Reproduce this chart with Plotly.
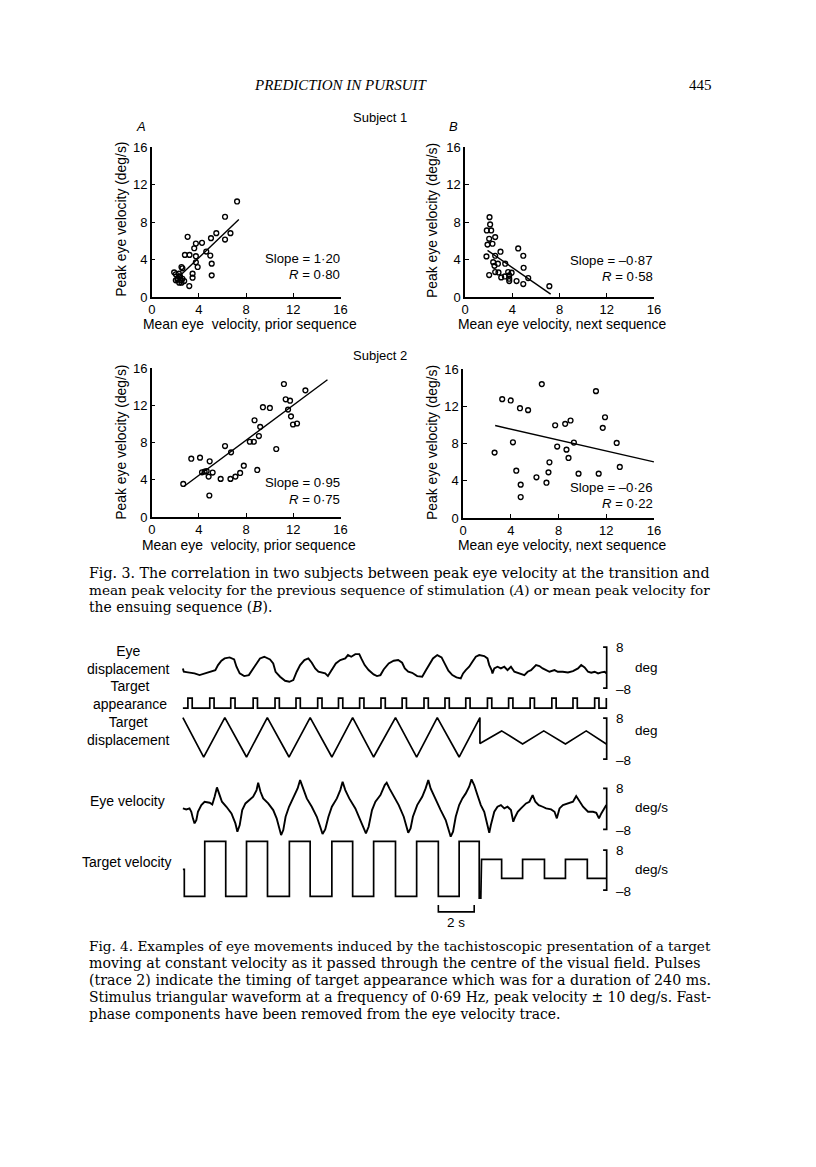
import plotly.graph_objects as go

# page geometry: figure sits inside the body margin; the photographed page is
# slightly rescaled, so reference-pixel positions are mapped through (A + S*p)
OFF = 8
W, H = 816 - 2 * OFF, 1167 - 2 * OFF
SX, SY = 0.982, 0.987
AX, AY = 7.0, 7.0

# ---------------- Fig. 3 data (deg/s) ----------------
a_x = [7.23, 6.21, 6.67, 5.47, 5.02, 6.21, 3.04, 3.74, 4.26, 3.6, 4.62, 2.81, 3.2, 3.74, 4.96, 5.08,
       3.74, 3.89, 3.46, 2.52, 2.6, 3.46, 5.08, 1.9, 2.04, 2.33, 2.18, 2.47, 2.33, 3.18, 2.52, 2.75,
       2.04, 2.2, 2.4, 2.6, 2.3]
a_y = [10.2, 8.57, 6.82, 6.82, 6.29, 6.14, 6.43, 5.71, 5.79, 5.21, 4.86, 4.5, 4.5, 4.36, 4.43, 3.57,
       3.71, 3.21, 2.5, 3.21, 3.07, 2.07, 2.32, 2.64, 2.43, 2.18, 1.89, 1.79, 1.54, 1.18, 1.54, 1.71,
       1.79, 2.0, 2.2, 1.95, 2.5]
a_fit_x = [2.52, 7.38]
a_fit_y = [2.43, 8.27]

b_x = [2.07, 2.12, 1.84, 2.21, 2.55, 2.04, 2.32, 1.9, 3.0, 1.81, 2.55, 4.5, 4.93, 4.96, 2.38, 2.78,
       3.4, 2.49, 2.55, 2.83, 2.04, 3.65, 3.94, 3.37, 3.06, 3.74, 3.74, 3.74, 4.36, 5.35, 4.93, 7.14]
b_y = [8.53, 7.75, 7.11, 7.11, 6.4, 6.22, 5.69, 5.6, 4.84, 4.34, 4.41, 5.19, 4.41, 3.13, 3.73, 3.56,
       3.56, 3.34, 2.67, 2.63, 2.35, 2.67, 2.6, 2.2, 2.1, 2.31, 1.96, 1.71, 1.71, 2.03, 1.39, 1.17]
b_fit_x = [1.9, 7.25]
b_fit_y = [4.98, 0.32]

c_x = [7.94, 11.2, 13.02, 11.35, 11.72, 9.42, 10.01, 11.55, 11.8, 8.71, 11.97, 12.31, 9.19, 9.08,
       8.31, 8.65, 17.45, 6.21, 6.72, 10.55, 4.09, 3.35, 4.91, 7.8, 4.26, 4.48, 4.65, 5.16, 7.49,
       7.09, 4.82, 8.94, 5.84, 6.67, 2.67, 4.88]
c_y = [16.93, 14.29, 13.61, 12.65, 12.5, 11.8, 11.72, 11.54, 10.82, 10.4, 9.94, 10.05, 9.69, 8.7,
       8.09, 8.09, 8.05, 7.63, 6.95, 7.31, 6.38, 6.27, 5.99, 5.52, 4.81, 4.88, 4.95, 4.78, 4.74,
       4.35, 4.35, 5.06, 4.1, 4.1, 3.56, 2.32]
c_fit_x = [2.75, 14.89]
c_fit_y = [3.31, 14.75]

d_x = [7.41, 6.6, 11.14, 3.28, 3.99, 4.77, 5.45, 11.9, 9.01, 8.56, 7.72, 11.71, 4.18, 12.88, 9.29,
       7.89, 8.67, 2.64, 8.84, 7.24, 13.14, 4.46, 7.16, 6.15, 9.68, 11.37, 6.99, 4.83, 4.83, 17.8]
d_y = [16.97, 14.39, 13.63, 12.77, 12.63, 11.8, 11.59, 10.83, 10.48, 10.12, 9.97, 9.69, 8.14, 8.07,
       8.11, 7.68, 7.35, 7.03, 6.46, 5.99, 5.49, 5.09, 4.91, 4.38, 4.77, 4.77, 3.8, 3.59, 2.26, 4.05]
d_fit_x = [2.69, 16.0]
d_fit_y = [9.94, 6.03]

axis_ticks = [0, 4, 8, 12, 16]
stats = [("Slope = 1·20", "<i>R</i> = 0·80"), ("Slope = –0·87", "<i>R</i> = 0·58"),
         ("Slope = 0·95", "<i>R</i> = 0·75"), ("Slope = –0·26", "<i>R</i> = 0·22")]

# ---------------- Fig. 4 data (time in s) ----------------
ed_t = [0.0, 0.05, 0.28, 0.65, 0.93, 1.21, 1.59, 1.81, 1.96, 2.15,
        2.33, 2.61, 2.86, 2.99, 3.17, 3.42, 3.68, 3.92, 4.11, 4.30,
        4.54, 4.86, 5.04, 5.17, 5.42, 5.70, 5.94, 6.16, 6.35, 6.54,
        6.78, 7.00, 7.19, 7.38, 7.56, 7.75, 7.94, 8.09, 8.31, 8.53,
        8.78, 9.06, 9.21, 9.39, 9.62, 9.84, 9.95, 10.14, 10.36, 10.64,
        10.83, 11.02, 11.20, 11.48, 11.76, 12.01, 12.23, 12.38, 12.57, 12.79,
        13.07, 13.35, 13.54, 13.73, 13.95, 14.19, 14.43, 14.60, 14.81, 15.03,
        15.26, 15.50, 15.63, 15.78, 15.97, 16.15, 16.34, 16.53, 16.81, 16.99,
        17.09, 17.22, 17.27, 17.37, 17.55, 17.74, 17.93, 18.11, 18.30, 18.49,
        18.77, 19.05, 19.23, 19.42, 19.70, 19.89, 20.07, 20.26, 20.45, 20.73,
        20.91, 21.19, 21.48, 21.76, 22.04, 22.22, 22.41, 22.60, 22.78, 22.97,
        23.16, 23.34, 23.53, 23.62]
ed_v = [-0.33, -1.63, -1.89, -2.28, -2.93, -2.28, -1.63, -0.98, 0.98, 2.67,
        3.58, 3.97, 3.19, 0.33, -2.28, -3.32, -2.93, -0.33, 1.89, 3.58,
        4.23, 3.19, 1.63, -1.63, -3.58, -5.14, -5.53, -4.88, -1.63, 0.98,
        2.93, 3.58, 1.89, -0.33, -1.63, -2.02, -2.28, -3.32, -0.98, 1.63,
        2.93, 3.58, 4.88, 4.23, 5.27, 5.27, 3.58, 0.98, -0.98, -2.67,
        -3.32, -2.93, -0.72, 1.63, 2.67, 2.93, 1.89, -0.33, -1.63, -2.02,
        -3.32, -3.58, -1.24, 0.98, 3.58, 4.88, 3.97, 1.63, -1.24, -2.93,
        -3.84, -4.23, -2.28, -0.98, 0.33, 2.28, 4.23, 4.88, 4.49, 3.58,
        0.98, -0.98, -2.28, -0.33, 0.33, -0.33, 0.33, -0.98, 0.33, -1.63,
        -2.28, -2.93, -1.63, -0.98, 0.98, 0.59, -0.33, -0.98, -1.63, -0.98,
        -1.63, -1.63, -1.89, -1.37, -0.33, 0.98, 0.07, -1.63, -2.02, -1.63,
        -2.28, -1.89, -1.63, -2.28]

ta_onsets = [0.28, 1.50, 2.67, 3.92, 5.14, 6.31, 7.52, 8.68, 9.86, 11.05, 12.23, 13.45, 14.62,
             15.78, 16.99, 18.17, 19.37, 20.58, 21.76, 22.97]
ta_duration = 0.24
trace_end = 23.62

td_t = [0.0, 1.16, 2.34, 3.55, 4.71, 5.92, 7.10, 8.31, 9.47, 10.64, 11.86, 13.04, 14.19, 15.41,
        16.57, 16.57, 17.78, 18.95, 20.13, 21.34, 22.50, 23.62]
td_v = [8.2, -7.2, 8.2, -7.2, 8.2, -7.2, 8.2, -7.2, 8.2, -7.2, 8.2, -7.2, 8.2, -7.2,
        8.2, -1.9, 3.0, -2.1, 3.0, -2.1, 3.0, -2.1]

ev_t = [0.0, 0.19, 0.37, 0.47, 0.56, 0.65, 0.75, 0.84, 1.03, 1.21,
        1.49, 1.64, 1.77, 1.90, 2.05, 2.18, 2.43, 2.71, 2.93, 3.04,
        3.17, 3.31, 3.49, 3.73, 3.92, 4.11, 4.20, 4.33, 4.48, 4.76,
        5.04, 5.23, 5.36, 5.48, 5.60, 5.73, 5.92, 6.16, 6.40, 6.54,
        6.69, 6.91, 7.19, 7.47, 7.66, 7.79, 7.94, 8.12, 8.31, 8.59,
        8.78, 8.91, 9.06, 9.28, 9.62, 9.90, 10.08, 10.21, 10.36, 10.55,
        10.74, 11.02, 11.26, 11.37, 11.52, 11.76, 12.04, 12.32, 12.46, 12.57,
        12.70, 12.83, 13.07, 13.35, 13.54, 13.69, 13.82, 14.10, 14.38, 14.66,
        14.85, 14.94, 15.07, 15.22, 15.41, 15.59, 15.78, 15.97, 16.10, 16.25,
        16.43, 16.62, 16.81, 16.99, 17.09, 17.18, 17.37, 17.55, 17.74, 17.93,
        18.11, 18.30, 18.43, 18.54, 18.68, 18.86, 19.14, 19.33, 19.51, 19.66,
        19.85, 20.07, 20.26, 20.54, 20.73, 20.86, 21.01, 21.20, 21.48, 21.76,
        21.94, 22.13, 22.32, 22.60, 22.88, 23.06, 23.21, 23.34, 23.53, 23.62]
ev_v = [0.18, -0.21, 0.18, -1.12, -3.70, -5.67, -4.37, -1.12, 1.48, 2.78,
        2.39, 1.74, 4.73, 8.38, 5.39, 2.78, 0.83, -1.77, -5.67, -8.92,
        -6.32, -0.47, 2.13, 3.43, 4.73, 7.34, 10.2, 6.69, 4.08, 2.13,
        -0.47, -3.70, -7.62, -10.2, -8.27, -3.07, 0.83, 4.73, 7.99, 11.24,
        7.99, 4.08, 0.83, -3.07, -6.97, -9.83, -8.0, -3.07, 0.83, 4.08,
        7.34, 10.59, 7.34, 4.08, 0.18, -4.37, -8.0, -9.57, -6.97, -0.47,
        2.78, 5.39, 9.29, 10.2, 7.99, 4.73, 1.48, -3.07, -6.97, -9.31,
        -7.62, -3.07, 1.48, 4.73, 7.99, 11.24, 7.99, 3.43, -0.47, -4.37,
        -8.27, -10.85, -8.92, -3.07, 1.48, 4.08, 6.04, 8.64, 11.5, 9.29,
        5.39, 1.48, -1.12, -6.32, -9.31, -6.32, -1.12, 0.83, 1.48, 0.18,
        0.83, -0.47, -5.02, -3.07, -1.12, 0.18, 2.13, 2.78, 5.39, 2.78,
        1.48, 0.83, 0.18, -0.21, -1.12, -3.70, 0.18, 1.48, 2.13, 2.78,
        4.99, 2.78, 0.83, -1.12, -1.12, -1.51, -3.70, -1.77, 0.18, 1.48]

tv_t = [0.0, 0.08, 0.08, 1.22, 1.22, 2.39, 2.39, 3.55, 3.55, 4.72, 4.72, 5.94, 5.94, 7.10, 7.10,
        8.31, 8.31, 9.47, 9.47, 10.64, 10.64, 11.86, 11.86, 13.04, 13.04, 14.25, 14.25, 15.41,
        15.41, 16.53, 16.53, 16.62, 16.66, 17.78, 17.78, 18.95, 18.95, 20.17, 20.17, 21.34,
        21.34, 22.56, 22.56, 23.62]
tv_v = [0.3, 0.3, -10.5, -10.5, 11.5, 11.5, -10.5, -10.5, 11.5, 11.5, -10.5, -10.5, 11.5, 11.5,
        -10.5, -10.5, 11.5, 11.5, -10.5, -10.5, 11.5, 11.5, -10.5, -10.5, 11.5, 11.5, -10.5,
        -10.5, 11.5, 11.5, -11.2, -11.2, 4.3, 4.3, -3.3, -3.3, 4.3, 4.3, -3.3, -3.3, 4.3, 4.3,
        -3.3, -3.3]

scale_bar_s = [14.25, 16.25]   # 2 s calibration

# ---------------- helpers ----------------
SANS = "Liberation Sans"
SERIF = "DejaVu Serif"


def fx(r):
    return ((r - AX) / SX - OFF) / W


def fy(r):
    return 1 - ((r - AY) / SY - OFF) / H


def xdom(pa, pb):
    return [fx(pa), fx(pb)]


def ydom(ptop, pbot):
    return [fy(pbot), fy(ptop)]


def val_at(v1, p1, v2, p2, p):
    return v1 + (p - p1) * (v2 - v1) / (p2 - p1)


fig = go.Figure()
layout = {}
annotations = []

# ---------------- Fig. 3 panels ----------------
panels = [
    dict(n="", x0=154, x16=342, y0=297, y16=147, xs=a_x, ys=a_y, fx=a_fit_x, fy=a_fit_y),
    dict(n="2", x0=466, x16=654, y0=297, y16=147, xs=b_x, ys=b_y, fx=b_fit_x, fy=b_fit_y),
    dict(n="3", x0=154, x16=342, y0=517, y16=368, xs=c_x, ys=c_y, fx=c_fit_x, fy=c_fit_y),
    dict(n="4", x0=464, x16=654, y0=518, y16=369, xs=d_x, ys=d_y, fx=d_fit_x, fy=d_fit_y),
]
axfont = dict(family=SANS, size=13, color="black")
for p in panels:
    n = p["n"]
    common = dict(range=[0, 16], tickvals=axis_ticks, ticks="inside", ticklen=4, tickwidth=1.3,
                  tickcolor="black", showline=True, linecolor="black", linewidth=1.5,
                  showgrid=False, zeroline=False, tickfont=axfont, fixedrange=True)
    layout["xaxis" + n] = dict(domain=xdom(p["x0"], p["x16"]), anchor="y" + n, **common)
    layout["yaxis" + n] = dict(domain=ydom(p["y16"], p["y0"]), anchor="x" + n, **common)
    fig.add_trace(go.Scatter(x=p["xs"], y=p["ys"], mode="markers", cliponaxis=False,
                             marker=dict(symbol="circle-open", size=4.8, color="black",
                                         line=dict(width=1.4, color="black")),
                             xaxis="x" + n, yaxis="y" + n, showlegend=False))
    fig.add_trace(go.Scatter(x=p["fx"], y=p["fy"], mode="lines", cliponaxis=False,
                             line=dict(color="black", width=1.4),
                             xaxis="x" + n, yaxis="y" + n, showlegend=False))


def ann(text, x, y, size=13, family=SANS, xanchor="center", yanchor="middle", angle=0,
        xref="paper", yref="paper"):
    if xref == "paper":
        x = fx(x)
    if yref == "paper":
        y = fy(y)
    annotations.append(dict(text=text, x=x, y=y, xref=xref, yref=yref, showarrow=False,
                            xanchor=xanchor, yanchor=yanchor, textangle=angle,
                            font=dict(family=family, size=size, color="black")))


ann("<i>PREDICTION IN PURSUIT</i>", 342, 85, size=15, family="Liberation Serif")
ann("445", 700, 85, size=15, family="Liberation Serif")

ann("Subject 1", 381, 117)
ann("Subject 2", 381, 355)
ann("<i>A</i>", 143, 126)
ann("<i>B</i>", 454, 126)

ytitle = "Peak eye velocity (deg/s)"
for (xc, yc) in [(123, 219), (433, 220), (123, 442), (433, 442)]:
    ann(ytitle, xc, yc, size=13.9, angle=-90)
ann("Mean eye  velocity, prior sequence", 252, 324, size=13.9)
ann("Mean eye velocity, next sequence", 562, 324, size=13.9)
ann("Mean eye  velocity, prior sequence", 251, 545, size=13.9)
ann("Mean eye velocity, next sequence", 562, 545, size=13.9)

for (s, r), (xr, y1, y2) in zip(stats, [(343, 258, 274), (655, 260, 276),
                                        (343, 482, 499), (655, 487, 503)]):
    ann(s, xr, y1, size=13.2, xanchor="right")
    ann(r, xr, y2, size=13.2, xanchor="right")

# caption lines (per-line size so that full lines fill the justified measure)
cap3 = [("Fig. 3. The correlation in two subjects between peak eye velocity at the transition and", 14.2),
        ("mean peak velocity for the previous sequence of stimulation (<i>A</i>) or mean peak velocity for", 13.6),
        ("the ensuing sequence (<i>B</i>).", 13.9)]
for k, (line, sz) in enumerate(cap3):
    ann(line, 90, 573 + 17 * k, size=sz, family=SERIF, xanchor="left")

cap4 = [("Fig. 4. Examples of eye movements induced by the tachistoscopic presentation of a target", 13.6),
        ("moving at constant velocity as it passed through the centre of the visual field. Pulses", 14.2),
        ("(trace 2) indicate the timing of target appearance which was for a duration of 240 ms.", 14.2),
        ("Stimulus triangular waveform at a frequency of 0·69 Hz, peak velocity ± 10 deg/s. Fast-", 13.95),
        ("phase components have been removed from the eye velocity trace.", 13.9)]
for k, (line, sz) in enumerate(cap4):
    ann(line, 90, 946 + 17 * k, size=sz, family=SERIF, xanchor="left")

# ---------------- Fig. 4 ----------------
PX_PER_S = 17.85
T0_PX = 185
x_dom_px = (178, 615)
layout["xaxis5"] = dict(domain=xdom(*x_dom_px), anchor="y5", visible=False, fixedrange=True,
                        range=[val_at(0, T0_PX, 1, T0_PX + PX_PER_S, x_dom_px[0]),
                               val_at(0, T0_PX, 1, T0_PX + PX_PER_S, x_dom_px[1])])


def yaxis_for(name, vtop, ptop, vbot, pbot, dom_top, dom_bot):
    layout[name] = dict(domain=ydom(dom_top, dom_bot), anchor="x5", visible=False,
                        fixedrange=True,
                        range=[val_at(vtop, ptop, vbot, pbot, dom_bot),
                               val_at(vtop, ptop, vbot, pbot, dom_top)])


yaxis_for("yaxis5", 8, 647, -8, 688, 638, 696)
yaxis_for("yaxis6", 1, 698, 0, 708, 693, 713)
yaxis_for("yaxis7", 8, 718, -8, 759, 712, 766)
yaxis_for("yaxis8", 8, 788.3, -8, 829.3, 774, 843)
yaxis_for("yaxis9", 8, 850, -8, 890, 834, 917)

line_style = dict(color="black", width=1.9)

fig.add_trace(go.Scatter(x=ed_t, y=ed_v, mode="lines", line=line_style, xaxis="x5", yaxis="y5",
                         showlegend=False))

ta_t, ta_v = [0.0], [0]
for on in ta_onsets:
    ta_t += [on, on, on + ta_duration, on + ta_duration]
    ta_v += [0, 1, 1, 0]
ta_t += [trace_end, trace_end]
ta_v += [0, 1]
fig.add_trace(go.Scatter(x=ta_t, y=ta_v, mode="lines", line=dict(color="black", width=1.7),
                         xaxis="x5", yaxis="y6", showlegend=False))
fig.add_trace(go.Scatter(x=td_t, y=td_v, mode="lines", line=dict(color="black", width=1.7),
                         xaxis="x5", yaxis="y7", showlegend=False))
fig.add_trace(go.Scatter(x=ev_t, y=ev_v, mode="lines", line=line_style, xaxis="x5", yaxis="y8",
                         showlegend=False))
fig.add_trace(go.Scatter(x=tv_t, y=tv_v, mode="lines", line=dict(color="black", width=1.7),
                         xaxis="x5", yaxis="y9", showlegend=False))

tb = trace_end + 0.02
stub = 0.2
for ya in ["y5", "y7", "y8", "y9"]:
    fig.add_trace(go.Scatter(x=[tb - stub, tb, tb, tb - stub], y=[8, 8, -8, -8], mode="lines",
                             line=dict(color="black", width=1.7), xaxis="x5", yaxis=ya,
                             showlegend=False))
    ann("8", tb + 0.4, 8, size=13.5, xanchor="left", xref="x5", yref=ya)
    ann("–8", tb + 0.4, -8.6, size=13.5, xanchor="left", xref="x5", yref=ya)

# units (page positions)
ann("deg", 647, 667, size=13.5)
ann("deg", 647, 730, size=13.5)
ann("deg/s", 652, 807, size=13.5)
ann("deg/s", 652, 869, size=13.5)

fig.add_trace(go.Scatter(x=[scale_bar_s[0], scale_bar_s[0], scale_bar_s[1], scale_bar_s[1]],
                         y=[-14.0, -16.7, -16.7, -14.0], mode="lines",
                         line=dict(color="black", width=1.6), xaxis="x5", yaxis="y9",
                         showlegend=False))
ann("2 s", 457, 922, size=13.5)

ann("Eye<br>displacement", 131, 660, size=14)
ann("Target<br>appearance", 132, 695, size=14)
ann("Target<br>displacement", 131, 731, size=14)
ann("Eye velocity", 130, 801, size=14)
ann("Target velocity", 129, 862, size=14)

fig.update_layout(width=W, height=H, margin=dict(l=0, r=0, t=0, b=0),
                  paper_bgcolor="white", plot_bgcolor="rgba(0,0,0,0)",
                  showlegend=False, annotations=annotations, **layout)

fig.write_html("out.html")
